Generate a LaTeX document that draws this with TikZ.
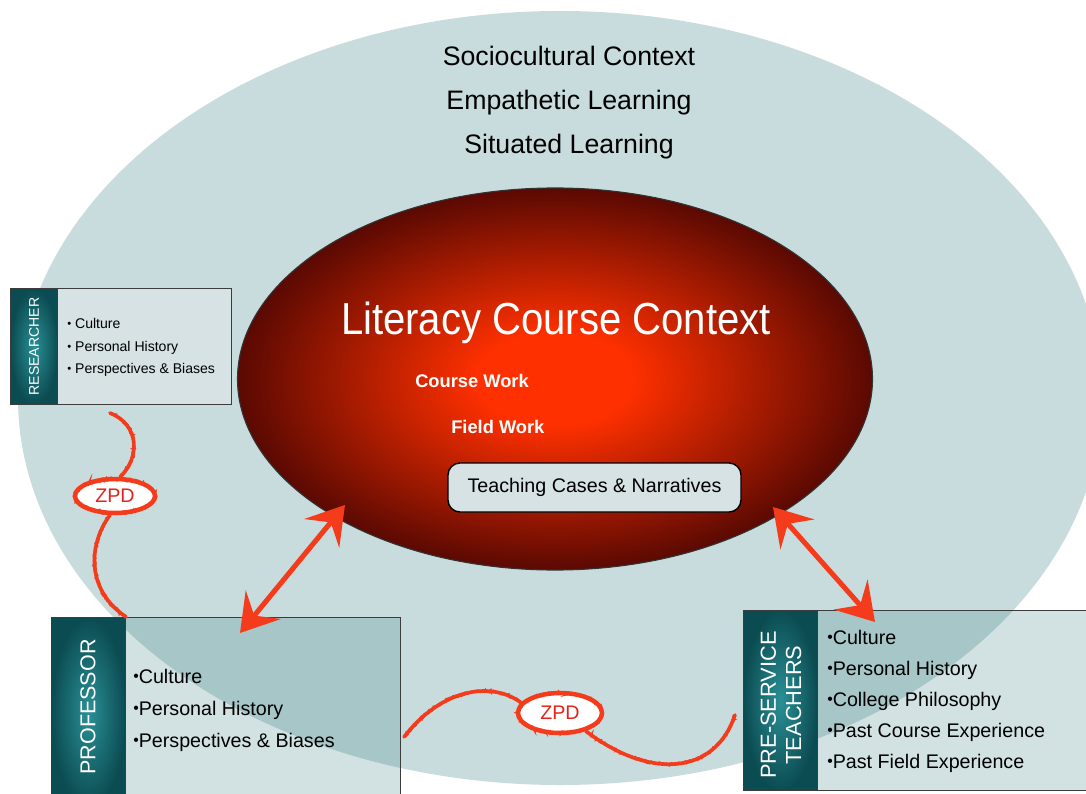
\documentclass[tikz,border=0pt]{standalone}
\usepackage{fontspec}
\setmainfont{Liberation Sans}
\usetikzlibrary{arrows.meta,positioning,calc,shapes.geometric,decorations.pathmorphing}

\definecolor{sociobg}{HTML}{C9DCDD}
\definecolor{cardbg}{HTML}{D6E2E4}
\definecolor{tealdark}{HTML}{0B4C52}
\definecolor{teallight}{HTML}{2A9096}
\definecolor{overlay}{HTML}{1E6E73}
\definecolor{hotred}{HTML}{FF3000}
\definecolor{darkred}{HTML}{5A0902}
\definecolor{crayon}{HTML}{F43C1C}
\definecolor{zpdtext}{HTML}{E3231B}
\definecolor{framegray}{HTML}{3C3C3C}

\newcommand{\px}{0.025cm}
\newcommand{\bul}{\raisebox{0.12ex}{\scalebox{0.8}{•}}}

\pgfdeclareradialshading{glow}{\pgfpoint{0bp}{0bp}}{color(0bp)=(hotred); color(6bp)=(hotred); color(25bp)=(darkred); color(50bp)=(darkred)}

\tikzset{
  txt/.style={inner sep=0},
  card/.style={draw=framegray, line width=0.8pt, fill=cardbg, inner sep=0, anchor=north west},
  glass/.style={draw=framegray, line width=0.8pt, fill=overlay, fill opacity=0.2, inner sep=0, anchor=north west},
  tag/.style={draw=framegray, line width=0.8pt, inner color=teallight, outer color=tealdark, inner sep=0, anchor=north west},
  tagtext/.style={txt, text=white, rotate=90, align=center},
  rough/.style={postaction={draw=crayon, line width=#1, decorate, decoration={random steps, segment length=1.2pt, amplitude=1pt}}},
  crayon/.style={draw=crayon, line width=2.6pt, line cap=round, rough=1.4pt},
  zpd/.style={ellipse, draw=crayon, line width=3.2pt, fill=white, text=zpdtext, font=\fontsize{14}{16}\selectfont, inner sep=0, rough=1.6pt},
  both/.style={draw=crayon, line width=3.6pt, line cap=round, {Stealth[length=26pt,width=32pt,inset=10pt]}-{Stealth[length=26pt,width=32pt,inset=10pt]}}
}

\begin{document}
\begin{tikzpicture}[x=0.025cm, y=-0.025cm]
        \path[use as bounding box] (0,0) rectangle (1086,794);
        \clip (0,0) rectangle (1086,794);
        \fill[white] (0,0) rectangle (1086,794);

        %%%% Sociocultural context =========================
        \node[ellipse, fill=sociobg, inner sep=0, minimum width=1084*\px, minimum height=774*\px] (socio) at (560,398) {};
        \node[txt, anchor=base, font=\fontsize{19}{22}\selectfont] (socio1) at (569,66) {Sociocultural Context};
        \node[txt, anchor=base, font=\fontsize{19}{22}\selectfont] (socio2) at (569,110) {Empathetic Learning};
        \node[txt, anchor=base, font=\fontsize{19}{22}\selectfont] (socio3) at (569,154) {Situated Learning};

        %%%% Literacy course context =======================
        \node[ellipse, draw=black!80, line width=0.8pt, shading=glow, inner sep=0, minimum width=635*\px, minimum height=382*\px] (ctx) at (555,379) {};
        \node[txt, anchor=base, text=white, font=\fontsize{28.5}{32}\selectfont, yscale=1.12, transform shape] (ctxTitle) at (556,334) {Literacy Course Context};
        \node[txt, anchor=base west, text=white, font=\bfseries\fontsize{13}{15}\selectfont] (course) at (415,387) {Course Work};
        \node[txt, anchor=base west, text=white, font=\bfseries\fontsize{13}{15}\selectfont] (field) at (451,433) {Field Work};
        \node[draw=black, line width=1pt, rounded corners=12*\px, fill=cardbg, minimum width=293*\px, minimum height=49*\px, font=\fontsize{14}{16}\selectfont] (cases) at (594.5,487.5) {Teaching Cases \& Narratives};

        %%%% Researcher ====================================
        \node[card, minimum width=221*\px, minimum height=116*\px] (res) at (10,288) {};
        \node[tag, minimum width=47*\px, minimum height=116*\px] (resTag) at (10,288) {};
        \node[tagtext, font=\fontsize{10}{12}\selectfont] (resName) at (resTag.center) {RESEARCHER};
        \node[txt, anchor=base west, font=\fontsize{10}{12}\selectfont] (res1) at (67,328) {\bul\ Culture};
        \node[txt, anchor=base west, font=\fontsize{10}{12}\selectfont] (res2) at (67,351) {\bul\ Personal History};
        \node[txt, anchor=base west, font=\fontsize{10}{12}\selectfont] (res3) at (67,373) {\bul\ Perspectives \& Biases};

        %%%% Professor =====================================
        \node[glass, minimum width=349*\px, minimum height=190*\px] (prof) at (51,617) {};
        \node[tag, minimum width=74*\px, minimum height=190*\px] (profTag) at (51,617) {};
        \node[tagtext, font=\fontsize{15.3}{18}\selectfont] (profName) at (88,707) {PROFESSOR};
        \node[txt, anchor=base west, font=\fontsize{14}{16}\selectfont] (prof1) at (133,683) {\bul Culture};
        \node[txt, anchor=base west, font=\fontsize{14}{16}\selectfont] (prof2) at (133,715) {\bul Personal History};
        \node[txt, anchor=base west, font=\fontsize{14}{16}\selectfont] (prof3) at (133,747) {\bul Perspectives \& Biases};

        %%%% Pre-service teachers ==========================
        \node[glass, minimum width=360*\px, minimum height=180*\px] (pst) at (743,610) {};
        \node[tag, minimum width=74*\px, minimum height=180*\px] (pstTag) at (743,610) {};
        \node[tagtext, font=\fontsize{15.5}{17.8}\selectfont] (pstName) at (781,705) {PRE-SERVICE\\TEACHERS};
        \node[txt, anchor=base west, font=\fontsize{14}{16}\selectfont] (pst1) at (827,644) {\bul Culture};
        \node[txt, anchor=base west, font=\fontsize{14}{16}\selectfont] (pst2) at (827,675) {\bul Personal History};
        \node[txt, anchor=base west, font=\fontsize{14}{16}\selectfont] (pst3) at (827,706) {\bul College Philosophy};
        \node[txt, anchor=base west, font=\fontsize{14}{16}\selectfont] (pst4) at (827,737) {\bul Past Course Experience};
        \node[txt, anchor=base west, font=\fontsize{14}{16}\selectfont] (pst5) at (827,768) {\bul Past Field Experience};

        %%%% ZPD links =====================================
        \node[zpd, minimum width=80*\px, minimum height=34*\px] (zpd0) at (115,496) {ZPD};
        \node[zpd, minimum width=84*\px, minimum height=40*\px] (zpd1) at (560,713) {ZPD};

        % Free ends
        \coordinate (zA) at (110,413);
        \coordinate (zB) at (404,737);
        \coordinate (zC) at (735,715);

        \draw[crayon] (zA) .. controls (140,425) and (140,458) .. (zpd0.75);
        \draw[crayon] (zpd0.255) .. controls (88,545) and (86,590) .. (profTag.north east);
        \draw[crayon] (zB) .. controls (440,690) and (490,680) .. (zpd1.165);
        \draw[crayon] (zpd1.-35) .. controls (650,780) and (715,775) .. (zC);

        %%%% Exchange arrows ===============================
        \coordinate (aL0) at (240,633);
        \coordinate (aL1) at (345,505);
        \coordinate (aR0) at (773,507);
        \coordinate (aR1) at (875,622);
        \draw[both] (aL0) -- (aL1);
        \draw[both] (aR0) -- (aR1);
    \end{tikzpicture}
\end{document}
